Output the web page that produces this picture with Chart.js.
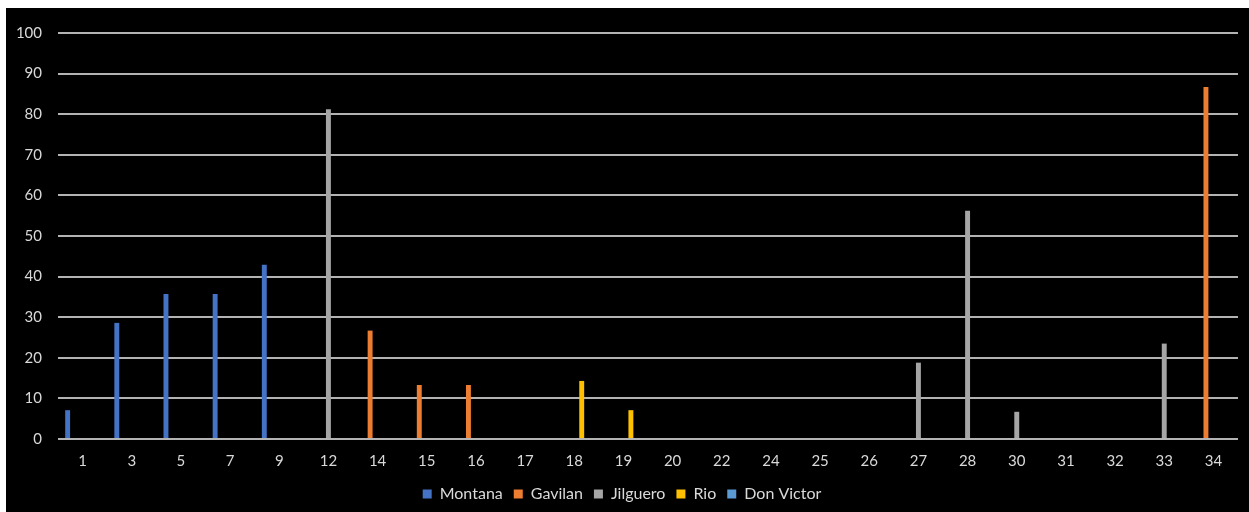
<!DOCTYPE html>
<html>
<head>
<meta charset="utf-8">
<script src="https://cdn.jsdelivr.net/npm/chart.js@4.4.1/dist/chart.umd.min.js"></script>
<style>
  html, body { margin: 0; padding: 0; background: #ffffff; }
  #wrap { position: absolute; left: 6px; top: 8px; width: 1243px; height: 504px; background: #000000; }
  #c { display: block; }
</style>
</head>
<body>
<div id="wrap"><canvas id="c" width="1243" height="504"></canvas></div>
<script>
// Categories along the x axis
const categories = ['1','3','5','7','9','12','14','15','16','17','18','19','20','22','24','25','26','27','28','30','31','32','33','34'];

// Series values (null where a series has no bar)
const montana   = [7.1, 28.6, 35.7, 35.7, 42.9, null, null, null, null, null, null, null, null, null, null, null, null, null, null, null, null, null, null, null];
const gavilan   = [null, null, null, null, null, null, 26.7, 13.3, 13.3, null, null, null, null, null, null, null, null, null, null, null, null, null, null, 86.7];
const jilguero  = [null, null, null, null, null, 81.2, null, null, null, null, null, null, null, null, null, null, null, 18.8, 56.2, 6.7, null, null, 23.5, null];
const rio       = [null, null, null, null, null, null, null, null, null, null, 14.3, 7.1, null, null, null, null, null, null, null, null, null, null, null, null];
const donVictor = [null, null, null, null, null, null, null, null, null, null, null, null, null, null, null, null, null, null, null, null, null, null, null, null];

// Y axis tick values
const yTicks = [0, 10, 20, 30, 40, 50, 60, 70, 80, 90, 100];

const seriesNames = ['Montana', 'Gavilan', 'Jilguero', 'Rio', 'Don Victor'];
const seriesColors = ['#4472C4', '#ED7D31', '#A5A5A5', '#FFC000', '#5B9BD5'];
const seriesData = [montana, gavilan, jilguero, rio, donVictor];

const textColor = '#d9d9d9';
const fontFamily = 'Lato, "Open Sans", "DejaVu Sans", sans-serif';

new Chart(document.getElementById('c'), {
  type: 'bar',
  data: {
    labels: categories,
    datasets: seriesNames.map((name, i) => ({
      label: name,
      data: seriesData[i],
      backgroundColor: seriesColors[i],
      borderWidth: 0,
      categoryPercentage: 0.76,
      barPercentage: 0.66
    }))
  },
  options: {
    responsive: false,
    animation: false,
    layout: { padding: { left: 0, right: 11, top: 24, bottom: 0 } },
    plugins: {
      title: { display: false },
      tooltip: { enabled: false },
      legend: {
        position: 'bottom',
        labels: {
          color: textColor,
          font: { family: fontFamily, size: 16 },
          boxWidth: 9,
          boxHeight: 9,
          padding: 11
        }
      }
    },
    scales: {
      x: {
        grid: { display: false },
        border: { display: false },
        ticks: {
          color: textColor,
          font: { family: fontFamily, size: 15 },
          padding: 5,
          maxRotation: 0,
          autoSkip: false
        }
      },
      y: {
        min: 0,
        max: 100,
        afterBuildTicks: (axis) => { axis.ticks = yTicks.map(v => ({ value: v })); },
        afterFit: (axis) => { axis.width = 52; },
        grid: { color: '#b3b3b3', lineWidth: 2, drawTicks: false },
        border: { display: false },
        ticks: {
          color: textColor,
          font: { family: fontFamily, size: 15 },
          padding: 16
        }
      }
    }
  }
});
</script>
</body>
</html>
